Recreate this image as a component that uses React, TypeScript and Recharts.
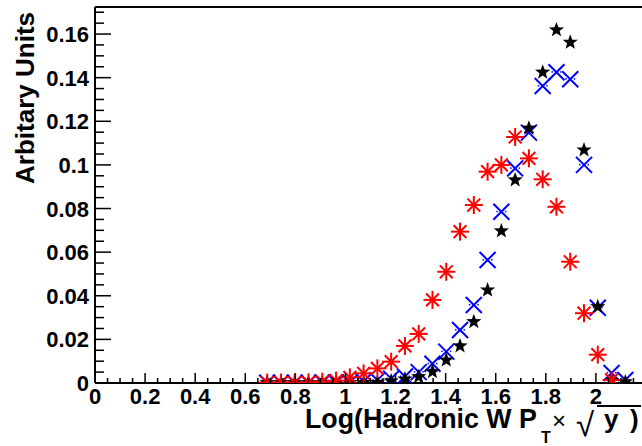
import React from 'react'
import { ScatterChart, Scatter, XAxis, YAxis, ReferenceLine } from 'recharts'

const X_MAX = 2.2
const Y_MAX = 0.1724
const FONT = '"Liberation Sans", Arial, sans-serif'

// bin centres (40 bins of width 0.055 over 0..2.2)
const binCenters = [
  0.6875, 0.7425, 0.7975, 0.8525, 0.9075, 0.9625, 1.0175, 1.0725, 1.1275, 1.1825,
  1.2375, 1.2925, 1.3475, 1.4025, 1.4575, 1.5125, 1.5675, 1.6225, 1.6775, 1.7325,
  1.7875, 1.8425, 1.8975, 1.9525, 2.0075, 2.0625, 2.1175,
]

const blueValues = [
  0.0001, 0.0001, 0.0001, 0.0001, 0.0002, 0.0002, 0.0003, 0.0007, 0.0013, 0.002,
  0.003, 0.005, 0.0088, 0.0144, 0.0243, 0.0358, 0.0564, 0.0785, 0.0984, 0.1148,
  0.1362, 0.1425, 0.1393, 0.1, 0.0345, 0.0046, 0.0014,
]

const blackValues = [
  0.0001, 0.0001, 0.0001, 0.0001, 0.0001, 0.0001, 0.0001, 0.0002, 0.0002, 0.0009,
  0.0018, 0.0029, 0.0052, 0.0105, 0.017, 0.0281, 0.0426, 0.0697, 0.0931, 0.1168,
  0.1425, 0.1619, 0.1562, 0.1068, 0.035, 0.001, 0.0005,
]

const redValues = [
  0.0002, 0.0002, 0.0002, 0.0003, 0.0006, 0.0011, 0.0026, 0.0044, 0.0067, 0.0098,
  0.017, 0.0225, 0.0381, 0.051, 0.0694, 0.0816, 0.0969, 0.1, 0.1128, 0.103,
  0.0934, 0.0808, 0.0556, 0.032, 0.013, 0.0014,
]

// labelled major ticks; 2.2 sits on the (cropped) right edge and carries no label
const xMajorTicks = [0, 0.2, 0.4, 0.6, 0.8, 1, 1.2, 1.4, 1.6, 1.8, 2]
const yMajorTicks = [0, 0.02, 0.04, 0.06, 0.08, 0.1, 0.12, 0.14, 0.16]

const xTicks = Array.from({ length: 44 }, (_, i) => Math.round(i * 5) / 100)
const yTicks = Array.from({ length: 35 }, (_, i) => Math.round(i * 5) / 1000)

const toPoints = (vals: number[]) => vals.map((y, i) => ({ x: binCenters[i], y }))

const isMajor = (v: number, majors: number[]) => majors.some((m) => Math.abs(m - v) < 1e-6)

const XTick = (props: any) => {
  const { x, y, payload } = props
  const v = payload.value
  const major = isMajor(v, xMajorTicks)
  return (
    <g>
      <line x1={x} y1={y} x2={x} y2={y - (major ? 10 : 5)} stroke="#000" strokeWidth={1.5} />
      {major && (
        <text x={x} y={y + 21} textAnchor="middle" fontFamily={FONT} fontWeight="bold" fontSize={22} fill="#000">
          {String(Math.round(v * 10) / 10)}
        </text>
      )}
    </g>
  )
}

const YTick = (props: any) => {
  const { x, y, payload } = props
  const v = payload.value
  const major = isMajor(v, yMajorTicks)
  return (
    <g>
      <line x1={x} y1={y} x2={x + (major ? 16 : 9)} y2={y} stroke="#000" strokeWidth={1.5} />
      {major && (
        <text x={x - 6} y={y + 8} textAnchor="end" fontFamily={FONT} fontWeight="bold" fontSize={22} fill="#000">
          {String(Math.round(v * 100) / 100)}
        </text>
      )}
    </g>
  )
}

const StarMark = (props: any) => {
  const { cx, cy } = props
  if (cx == null || cy == null) return null
  const pts: string[] = []
  for (let i = 0; i < 10; i++) {
    const r = i % 2 === 0 ? 8 : 3.3
    const a = -Math.PI / 2 + (i * Math.PI) / 5
    pts.push(`${cx + r * Math.cos(a)},${cy + r * Math.sin(a)}`)
  }
  return <polygon points={pts.join(' ')} fill="#000" />
}

const CrossMark = (props: any) => {
  const { cx, cy } = props
  if (cx == null || cy == null) return null
  const d = 8
  return (
    <g stroke="#0000ff" strokeWidth={2}>
      <line x1={cx - d} y1={cy - d} x2={cx + d} y2={cy + d} />
      <line x1={cx - d} y1={cy + d} x2={cx + d} y2={cy - d} />
      <rect x={cx - 5} y={cy - 1} width={1.5} height={1.5} fill="#0000ff" stroke="none" />
      <rect x={cx + 3.5} y={cy - 1} width={1.5} height={1.5} fill="#0000ff" stroke="none" />
    </g>
  )
}

const AsteriskMark = (props: any) => {
  const { cx, cy } = props
  if (cx == null || cy == null) return null
  const r = 9
  const d = 6.4
  return (
    <g stroke="#ff0000" strokeWidth={2}>
      <line x1={cx - r} y1={cy} x2={cx + r} y2={cy} />
      <line x1={cx} y1={cy - r} x2={cx} y2={cy + r} />
      <line x1={cx - d} y1={cy - d} x2={cx + d} y2={cy + d} />
      <line x1={cx - d} y1={cy + d} x2={cx + d} y2={cy - d} />
    </g>
  )
}

const Titles = () => (
  <svg width={642} height={446} style={{ position: 'absolute', left: 0, top: 0, pointerEvents: 'none' }}>
    <text x={34} y={12} transform="rotate(-90 34 12)" textAnchor="end" fontFamily={FONT} fontWeight="bold" fontSize={26} fill="#000">
      Arbitary Units
    </text>
    <g fontFamily={FONT} fill="#000">
      <text x={305} y={428} fontWeight="bold" fontSize={26.75}>Log(Hadronic W P</text>
      <text x={541} y={443} fontWeight="bold" fontSize={16}>T</text>
      <text x={552} y={429} fontSize={24}>×</text>
      <text x={576} y={436} fontSize={33}>√</text>
      <line x1={597} y1={406} x2={641} y2={406} stroke="#000" strokeWidth={2} />
      <text x={604} y={428} fontWeight="bold" fontSize={26}>y</text>
      <text x={630} y={428} fontWeight="bold" fontSize={26}>)</text>
    </g>
  </svg>
)

export default function App() {
  return (
    <div style={{ position: 'absolute', left: 0, top: 0, width: 642, height: 446, overflow: 'hidden', background: '#fff' }}>
      <ScatterChart width={660} height={446} margin={{ top: 7, right: 14, bottom: 0, left: 0 }}>
        <XAxis
          type="number"
          dataKey="x"
          domain={[0, X_MAX]}
          ticks={xTicks}
          interval={0}
          height={63}
          tickSize={0}
          tickMargin={0}
          tickLine={false}
          tick={<XTick />}
          axisLine={{ stroke: '#000', strokeWidth: 2 }}
          allowDataOverflow
        />
        <YAxis
          type="number"
          dataKey="y"
          domain={[0, Y_MAX]}
          ticks={yTicks}
          interval={0}
          width={95}
          tickSize={0}
          tickMargin={0}
          tickLine={false}
          tick={<YTick />}
          axisLine={{ stroke: '#000', strokeWidth: 2 }}
          allowDataOverflow
        />
        <ReferenceLine y={Y_MAX} stroke="#000" strokeWidth={2} />
        <ReferenceLine x={X_MAX} stroke="#000" strokeWidth={2} />
        <Scatter data={toPoints(blueValues)} shape={(p: any) => <CrossMark {...p} />} isAnimationActive={false} />
        <Scatter data={toPoints(blackValues)} shape={(p: any) => <StarMark {...p} />} isAnimationActive={false} />
        <Scatter data={toPoints(redValues)} shape={(p: any) => <AsteriskMark {...p} />} isAnimationActive={false} />
      </ScatterChart>
      <Titles />
    </div>
  )
}
